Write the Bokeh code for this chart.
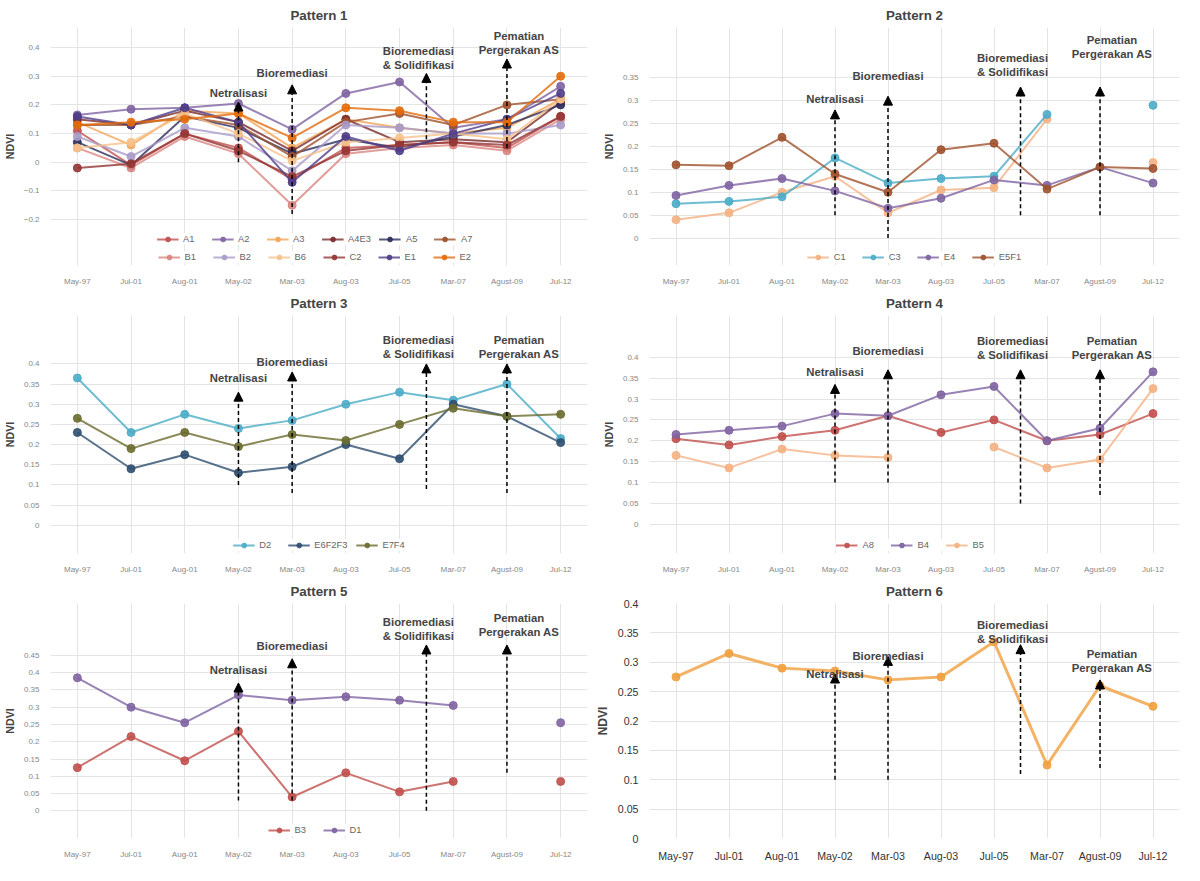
import numpy as np
from bokeh.plotting import figure
from bokeh.models import (FactorRange, Legend, LegendItem, Arrow, NormalHead,
                          Label, FixedTicker)
from bokeh.layouts import gridplot
from bokeh.embed import file_html
from bokeh.resources import INLINE

nan = np.nan
dates = ["May-97", "Jul-01", "Aug-01", "May-02", "Mar-03", "Aug-03",
         "Jul-05", "Mar-07", "Agust-09", "Jul-12"]

# Pattern 1
p1_names = ["A1", "A2", "A3", "A4E3", "A5", "A7", "B1", "B2", "B6", "C2", "E1", "E2"]
p1_colors = ["#c0504d", "#8064a2", "#f2a65a", "#7b2c2c", "#2e2e5e", "#a0522d",
             "#d9847f", "#a99bc9", "#f6c28b", "#943634", "#4f3d8a", "#e46c0a"]
p1_values = [
    [0.11, -0.01, 0.10, 0.05, -0.06, 0.05, 0.06, 0.07, 0.05, 0.16],
    [0.165, 0.185, 0.19, 0.205, 0.115, 0.24, 0.28, 0.12, 0.15, 0.265],
    [0.14, 0.06, 0.18, 0.17, 0.05, 0.15, 0.12, 0.10, 0.12, 0.22],
    [0.15, 0.13, 0.18, 0.14, 0.04, 0.15, 0.07, 0.08, 0.07, 0.21],
    [0.07, -0.01, 0.16, 0.12, 0.03, 0.08, 0.05, 0.09, 0.13, 0.20],
    [0.13, 0.13, 0.16, 0.13, 0.02, 0.14, 0.17, 0.13, 0.20, 0.22],
    [0.05, -0.02, 0.09, 0.03, -0.15, 0.03, 0.05, 0.06, 0.04, 0.15],
    [0.09, 0.02, 0.12, 0.09, -0.03, 0.13, 0.12, 0.10, 0.10, 0.13],
    [0.05, 0.07, 0.17, 0.10, 0.005, 0.07, 0.085, 0.10, 0.08, 0.22],
    [-0.02, -0.005, 0.10, 0.04, -0.05, 0.04, 0.06, 0.07, 0.06, 0.16],
    [0.16, 0.13, 0.19, 0.14, -0.07, 0.09, 0.04, 0.10, 0.15, 0.24],
    [0.13, 0.14, 0.15, 0.17, 0.085, 0.19, 0.18, 0.14, 0.14, 0.30],
]

# Pattern 2
p2_names = ["C1", "C3", "E4", "E5F1"]
p2_colors = ["#f4b183", "#4bacc6", "#8064a2", "#a0522d"]
p2_values = [
    [0.04, 0.055, 0.10, 0.135, 0.055, 0.105, 0.11, 0.26, nan, 0.165],
    [0.075, 0.08, 0.09, 0.175, 0.12, 0.13, 0.135, 0.27, nan, 0.29],
    [0.093, 0.115, 0.13, 0.103, 0.065, 0.087, 0.127, 0.115, 0.155, 0.12],
    [0.16, 0.158, 0.22, 0.14, 0.10, 0.193, 0.207, 0.107, 0.155, 0.152],
]

# Pattern 3
p3_names = ["D2", "E6F2F3", "E7F4"]
p3_colors = ["#4bacc6", "#2f4f6f", "#6b6b2f"]
p3_values = [
    [0.365, 0.23, 0.275, 0.24, 0.26, 0.30, 0.33, 0.31, 0.35, 0.215],
    [0.23, 0.14, 0.175, 0.13, 0.145, 0.20, 0.165, 0.30, 0.27, 0.205],
    [0.265, 0.19, 0.23, 0.195, 0.225, 0.21, 0.25, 0.29, 0.27, 0.275],
]

# Pattern 4
p4_names = ["A8", "B4", "B5"]
p4_colors = ["#c0504d", "#8064a2", "#f4b183"]
p4_values = [
    [0.205, 0.19, 0.21, 0.225, 0.26, 0.22, 0.25, 0.20, 0.215, 0.265],
    [0.215, 0.225, 0.235, 0.265, 0.26, 0.31, 0.33, 0.20, 0.23, 0.365],
    [0.165, 0.135, 0.18, 0.165, 0.16, nan, 0.185, 0.135, 0.155, 0.325],
]

# Pattern 5
p5_names = ["B3", "D1"]
p5_colors = ["#c0504d", "#8064a2"]
p5_values = [
    [0.125, 0.215, 0.145, 0.23, 0.04, 0.11, 0.055, 0.085, nan, 0.085],
    [0.385, 0.30, 0.255, 0.335, 0.32, 0.33, 0.32, 0.305, nan, 0.255],
]

# Pattern 6
p6_names = ["NDVI"]
p6_colors = ["#f0a040"]
p6_values = [[0.275, 0.315, 0.29, 0.285, 0.27, 0.275, 0.335, 0.125, 0.26, 0.225]]

event_labels = [["Netralisasi"], ["Bioremediasi"], ["Bioremediasi", "& Solidifikasi"],
                ["Pematian", "Pergerakan AS"]]
event_x = [3.5, 4.5, 7.0, 8.5]
label_dx = [0, 0, -8, 12]


def make_panel(title, names, colors, values, yr, ticks, ev, show_legend=True,
               big=False):
    p = figure(x_range=FactorRange(*dates), y_range=yr, width=592, height=288,
               output_backend="svg", toolbar_location=None, title=title)
    p.title.align = "center"
    p.title.text_font_size = "10pt"
    p.outline_line_color = None
    p.yaxis.ticker = FixedTicker(ticks=ticks)
    p.yaxis.axis_label = "NDVI"
    p.yaxis.axis_label_text_font_style = "bold"
    p.yaxis.axis_label_text_font_size = "9pt" if big else "8pt"
    lab = "#333333" if big else "#888888"
    fs = "8pt" if big else "6pt"
    p.xaxis.major_label_text_font_size = fs
    p.yaxis.major_label_text_font_size = fs
    p.xaxis.major_label_text_color = lab
    p.yaxis.major_label_text_color = lab
    p.xaxis.axis_line_color = None
    p.yaxis.axis_line_color = None
    p.xaxis.major_tick_line_color = None
    p.yaxis.major_tick_line_color = None
    p.yaxis.minor_tick_line_color = None
    p.ygrid.grid_line_color = "#e4e4e4"
    p.xgrid.grid_line_color = "#e4e4e4"
    items = []
    for n, c, v in zip(names, colors, values):
        r1 = p.line(dates, v, line_color=c, line_width=2, line_alpha=0.8)
        r2 = p.scatter(dates, v, size=8, fill_color=c, line_color=c, alpha=0.9)
        items.append(LegendItem(label=n, renderers=[r1, r2]))
    if show_legend:
        nrow = (len(items) + 5) // 6
        for i, row in enumerate(range(0, len(items), 6)):
            leg = Legend(items=items[row:row + 6], orientation="horizontal",
                         location="bottom_center",
                         label_text_font_size="7pt", label_text_color="#666666",
                         border_line_color=None, background_fill_alpha=1,
                         glyph_width=22, glyph_height=12, label_height=12,
                         spacing=8, padding=1,
                         margin=2 + (nrow - 1 - i) * 18)
            p.add_layout(leg)
    for (lines, x, dx, y0, y1, ty) in zip(event_labels, event_x, label_dx,
                                          ev[0], ev[1], ev[2]):
        p.add_layout(Arrow(end=NormalHead(size=9, fill_color="black"),
                           x_start=x, y_start=y0, x_end=x, y_end=y1,
                           line_dash="4 3", line_width=1.5))
        for k, line in enumerate(reversed(lines)):
            p.add_layout(Label(x=x, y=ty, x_offset=dx, y_offset=k * 14,
                               text=line, text_align="center",
                               text_baseline="bottom", text_font_style="bold",
                               text_font_size="8.5pt"))
    return p


p1 = make_panel("Pattern 1", p1_names, p1_colors, p1_values, (-0.36, 0.47),
                [-0.2, -0.1, 0, 0.1, 0.2, 0.3, 0.4],
                ([0.0, -0.18, 0.08, 0.05], [0.21, 0.27, 0.31, 0.36],
                 [0.22, 0.29, 0.32, 0.37]))
p2 = make_panel("Pattern 2", p2_names, p2_colors, p2_values, (-0.06, 0.46),
                [0, 0.05, 0.1, 0.15, 0.2, 0.25, 0.3, 0.35],
                ([0.05, 0.0, 0.05, 0.05], [0.28, 0.31, 0.33, 0.33],
                 [0.29, 0.34, 0.35, 0.39]))
p3 = make_panel("Pattern 3", p3_names, p3_colors, p3_values, (-0.07, 0.52),
                [0, 0.05, 0.1, 0.15, 0.2, 0.25, 0.3, 0.35, 0.4],
                ([0.1, 0.08, 0.09, 0.08], [0.33, 0.38, 0.4, 0.4],
                 [0.35, 0.39, 0.41, 0.41]))
p4 = make_panel("Pattern 4", p4_names, p4_colors, p4_values, (-0.07, 0.5),
                [0, 0.05, 0.1, 0.15, 0.2, 0.25, 0.3, 0.35, 0.4],
                ([0.1, 0.1, 0.05, 0.07], [0.335, 0.37, 0.37, 0.37],
                 [0.35, 0.4, 0.39, 0.39]))
p5 = make_panel("Pattern 5", p5_names, p5_colors, p5_values, (-0.08, 0.6),
                [0, 0.05, 0.1, 0.15, 0.2, 0.25, 0.3, 0.35, 0.4, 0.45],
                ([0.03, 0.03, 0.0, 0.11], [0.37, 0.44, 0.48, 0.48],
                 [0.39, 0.46, 0.49, 0.5]))
p6 = make_panel("Pattern 6", p6_names, p6_colors, p6_values, (0, 0.4),
                [0, 0.05, 0.1, 0.15, 0.2, 0.25, 0.3, 0.35, 0.4],
                ([0.1, 0.1, 0.11, 0.12], [0.28, 0.31, 0.33, 0.27],
                 [0.27, 0.3, 0.33, 0.28]), show_legend=False, big=True)
p6.renderers[0].glyph.line_width = 3

grid = gridplot([[p1, p2], [p3, p4], [p5, p6]], toolbar_location=None)
open("out.html", "w").write(file_html(grid, INLINE))
